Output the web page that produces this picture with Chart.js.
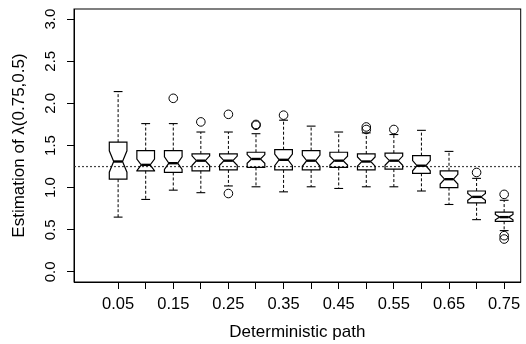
<!DOCTYPE html>
<html><head><meta charset="utf-8">
<script src="https://cdn.jsdelivr.net/npm/chart.js@4.4.1/dist/chart.umd.min.js"></script>
<style>html,body{margin:0;padding:0;background:#fff;} #wrap{width:526px;height:344px;position:relative;}</style>
</head><body><div id="wrap"><canvas id="c" width="526" height="344"></canvas></div>
<script>
const categories = ['0.05','0.10','0.15','0.20','0.25','0.30','0.35','0.40','0.45','0.50','0.55','0.60','0.65','0.70','0.75'];
const xTickLabels = ['0.05','','0.15','','0.25','','0.35','','0.45','','0.55','','0.65','','0.75'];
const whiskerLow  = [0.65,0.86,0.97,0.94,1.02,1.01,0.95,1.01,0.99,1.01,1.01,0.96,0.80,0.62,0.49];
const q1          = [1.10,1.20,1.18,1.20,1.21,1.24,1.21,1.21,1.24,1.21,1.22,1.17,1.00,0.82,0.60];
const medians     = [1.31,1.27,1.29,1.32,1.32,1.34,1.33,1.32,1.32,1.31,1.32,1.26,1.10,0.89,0.65];
const q3          = [1.54,1.44,1.44,1.40,1.40,1.42,1.45,1.44,1.42,1.40,1.41,1.38,1.20,0.96,0.71];
const whiskerHigh = [2.14,1.76,1.76,1.66,1.66,1.64,1.80,1.73,1.66,1.65,1.63,1.68,1.43,1.11,0.85];
const outliers = [[],[],[2.06],[1.78],[1.87,0.93],[1.75,1.74],[1.86],[],[],[1.72,1.69],[1.69],[],[],[1.18],[0.92,0.43,0.39]];
const yTicks = [0,0.5,1,1.5,2,2.5,3];
const yTickLabels = ['0.0','0.5','1.0','1.5','2.0','2.5','3.0'];
const referenceValue = 1.25;
const sampleSize = 30;
const boxWidth = 0.64;

const FONT = '"Liberation Sans", Arial, Helvetica, sans-serif';

const boxPlugin = {
  id: 'notchedBoxes',
  beforeDatasetsDraw(chart) {
    const {ctx, chartArea: a, scales: {x, y}} = chart;
    ctx.save();
    const yr = y.getPixelForValue(referenceValue);
    ctx.strokeStyle = '#444';
    ctx.lineWidth = 1.2;
    ctx.setLineDash([2, 2]);
    ctx.beginPath(); ctx.moveTo(a.left, yr); ctx.lineTo(a.right, yr); ctx.stroke();
    const hw = x.getPixelForValue(1 + boxWidth / 2) - x.getPixelForValue(1);
    const line = (x1, y1, x2, y2) => { ctx.beginPath(); ctx.moveTo(x1, y1); ctx.lineTo(x2, y2); ctx.stroke(); };
    categories.forEach((c, i) => {
      const cx = x.getPixelForValue(i + 1);
      const nh = 1.58 * (q3[i] - q1[i]) / Math.sqrt(sampleSize);
      const pQ1 = y.getPixelForValue(q1[i]);
      const pQ3 = y.getPixelForValue(q3[i]);
      const pMed = y.getPixelForValue(medians[i]);
      const pLo = y.getPixelForValue(whiskerLow[i]);
      const pHi = y.getPixelForValue(whiskerHigh[i]);
      const pNlo = y.getPixelForValue(medians[i] - nh);
      const pNhi = y.getPixelForValue(medians[i] + nh);
      ctx.strokeStyle = '#000';
      ctx.lineWidth = 1;
      ctx.setLineDash([3, 2]);
      line(cx, pQ3, cx, pHi);
      line(cx, pQ1, cx, pLo);
      ctx.setLineDash([]);
      ctx.lineWidth = 1.1;
      line(cx - hw / 2, pHi, cx + hw / 2, pHi);
      line(cx - hw / 2, pLo, cx + hw / 2, pLo);
      ctx.lineWidth = 1.2;
      ctx.beginPath();
      ctx.moveTo(cx - hw, pQ1);
      ctx.lineTo(cx - hw, pNlo);
      ctx.lineTo(cx - hw / 2, pMed);
      ctx.lineTo(cx - hw, pNhi);
      ctx.lineTo(cx - hw, pQ3);
      ctx.lineTo(cx + hw, pQ3);
      ctx.lineTo(cx + hw, pNhi);
      ctx.lineTo(cx + hw / 2, pMed);
      ctx.lineTo(cx + hw, pNlo);
      ctx.lineTo(cx + hw, pQ1);
      ctx.closePath();
      ctx.stroke();
      ctx.lineWidth = 2.4;
      line(cx - hw / 2, pMed, cx + hw / 2, pMed);
    });
    ctx.restore();
  },
  afterDraw(chart) {
    const {ctx, chartArea: a} = chart;
    ctx.save();
    ctx.strokeStyle = '#000';
    ctx.lineWidth = 1;
    ctx.strokeRect(a.left, a.top, a.right - a.left, a.bottom - a.top);
    ctx.restore();
  }
};

const outlierPoints = outliers.flatMap((arr, i) => arr.map(v => ({x: i + 1, y: v})));

function zeroPad(s) { s.paddingLeft = 0; s.paddingRight = 0; s.paddingTop = 0; s.paddingBottom = 0; }

new Chart(document.getElementById('c'), {
  type: 'scatter',
  data: {
    datasets: [{
      data: outlierPoints,
      pointRadius: 4.3,
      pointHoverRadius: 4.3,
      pointBorderColor: '#000',
      pointBackgroundColor: 'rgba(0,0,0,0)',
      pointBorderWidth: 1,
      showLine: false
    }]
  },
  options: {
    responsive: false,
    animation: false,
    events: [],
    layout: {padding: {top: 9, right: 3, bottom: 0, left: 0}},
    plugins: {legend: {display: false}, tooltip: {enabled: false}},
    scales: {
      x: {
        type: 'linear', position: 'bottom', min: -0.6, max: 15.6,
        afterBuildTicks: s => { s.ticks = categories.map((c, i) => ({value: i + 1})); },
        afterFit: s => { s.height = 62; zeroPad(s); },
        ticks: {
          autoSkip: false, maxRotation: 0, minRotation: 0, padding: 5.5, color: '#000',
          font: {family: FONT, size: 16.5},
          callback: v => xTickLabels[Math.round(v) - 1]
        },
        grid: {display: true, drawOnChartArea: false, drawTicks: true, tickLength: 7, color: '#000', lineWidth: 1},
        border: {display: true, color: '#000'},
        title: {display: true, text: 'Deterministic path', color: '#000', font: {family: FONT, size: 17}, padding: {top: 0, bottom: 1}}
      },
      y: {
        type: 'linear', position: 'left', min: -0.12, max: 3.12,
        afterBuildTicks: s => { s.ticks = yTicks.map(v => ({value: v})); },
        afterFit: s => { s.width = 74; zeroPad(s); },
        ticks: {
          minRotation: 90, maxRotation: 90, crossAlign: 'center', padding: 6, color: '#000',
          font: {family: FONT, size: 15},
          callback: v => yTickLabels[yTicks.indexOf(v)]
        },
        grid: {display: true, drawOnChartArea: false, drawTicks: true, tickLength: 7, color: '#000', lineWidth: 1},
        border: {display: true, color: '#000'},
        title: {display: true, text: 'Estimation of λ(0.75,0.5)', color: '#000', font: {family: FONT, size: 17}, padding: {top: 9, bottom: 0}}
      }
    }
  },
  plugins: [boxPlugin]
});
</script>
</body></html>
